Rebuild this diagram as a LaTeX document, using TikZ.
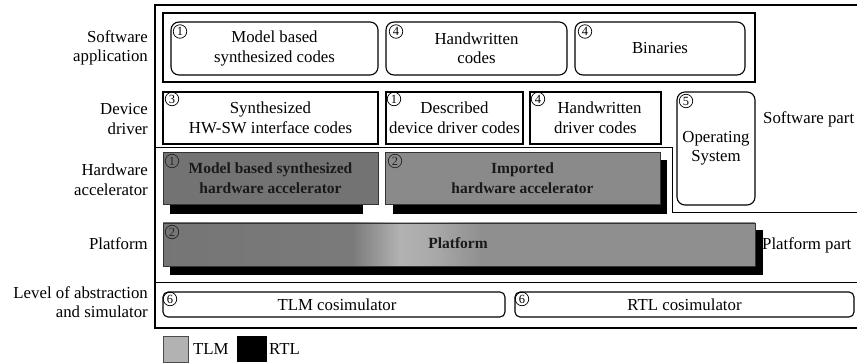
\documentclass[tikz,border=0pt]{standalone}
\usepackage{fontspec}
\setmainfont{Liberation Serif}
\pgfdeclarehorizontalshading{platshade}{100bp}{color(0bp)=(black!54); color(25bp)=(black!54); color(41bp)=(black!52); color(45bp)=(black!30); color(48bp)=(black!34); color(52bp)=(black!44); color(75bp)=(black!44); color(100bp)=(black!44)}
\begin{document}
\begin{tikzpicture}[x=1pt,y=-1pt,
  txt/.style={font=\fontsize{16.8}{19.5}\selectfont, align=center, inner sep=0pt},
  lbl/.style={txt, align=right, anchor=east},
  frame/.style={draw=black, line width=1.1pt},
  rbox/.style={draw=black, line width=1.1pt, rounded corners=8pt, txt, minimum width=#1},
  sbox/.style={draw=black, line width=1.1pt, txt, minimum width=#1},
  gbox/.style={draw=black!80, line width=0.8pt, inner sep=0pt, align=center,
    font=\fontsize{15.5}{19.5}\selectfont\bfseries, text=black!90, minimum width=#1},
  shadowbox/.style={fill=black},
  cnum/.style={circle, draw=black, line width=0.7pt, inner sep=0pt, minimum size=13.5pt,
    font=\fontsize{12.5}{12.5}\selectfont}
]
\useasboundingbox (0,0) rectangle (857,363);

% outer frame and part separators
\draw[line width=1.1pt] (857,5) -- (155,5) -- (155,328) -- (857,328);
\draw[line width=1pt] (155,283) -- (857,283);
\draw[line width=1pt] (155,148) -- (672,148) -- (672,213) -- (857,213);

% left labels
\node[lbl] (lsw) at (148,48) {Software\\application};
\node[lbl] (ldd) at (148,119) {Device\\driver};
\node[lbl] (lhw) at (148,180) {Hardware\\accelerator};
\node[lbl] (lpf) at (148,244) {Platform};
\node[lbl] (lla) at (148,302) {Level of abstraction\\and simulator};

% right labels
\node[txt, anchor=west] (swpart) at (763,119) {Software part};
\node[txt, anchor=west] (pfpart) at (762,245) {Platform part};

% software application
\node[frame, minimum width=592pt, minimum height=69pt, inner sep=0pt] (swapp) at (459,47.5) {};
\node[rbox=207pt, minimum height=53pt] (sa1) at (274.5,48.5) {Model based\\synthesized codes};
\node[rbox=181pt, minimum height=53pt] (sa2) at (476.5,48.5) {Handwritten\\codes};
\node[rbox=170pt, minimum height=53pt] (sa3) at (660,48.5) {Binaries};
\node[cnum] (c1) at (180,31.5) {1};
\node[cnum] (c2) at (396,31.5) {4};
\node[cnum] (c3) at (585,31.5) {4};

% device driver
\node[sbox=215pt, minimum height=52pt] (dd1) at (270.5,118) {Synthesized\\HW-SW interface codes};
\node[sbox=137pt, minimum height=52pt] (dd2) at (454.5,118) {Described\\device driver codes};
\node[sbox=131pt, minimum height=52pt] (dd3) at (595.5,118) {\hspace*{8pt}Handwritten\\driver codes};
\node[rbox=78pt, minimum height=113pt] (os) at (716,148.5) {Operating\\System};
\node[cnum] (c4) at (172,99) {3};
\node[cnum] (c5) at (394,99) {1};
\node[cnum] (c6) at (538,99) {4};
\node[cnum] (c7) at (686,101) {5};

% hardware accelerators (TLM boxes over RTL shadows)
\fill[shadowbox] (170,160) rectangle (363,214);
\fill[shadowbox] (393,160) rectangle (667,214);
\fill[shadowbox] (170,230) rectangle (763,275);
\node[gbox=215pt, minimum height=52pt, fill=black!55] (hwa) at (270.5,178) {Model based synthesized\\hardware accelerator};
\node[gbox=275pt, minimum height=52pt, fill=black!46] (hwb) at (522.5,178) {Imported\\hardware accelerator};
\node[gbox=592pt, minimum height=43pt, shading=platshade] (plat) at (459,244.5) {};
\node[font=\fontsize{15.5}{19.5}\selectfont\bfseries, text=black!90, inner sep=0pt] (plattxt) at (458,243) {Platform};
\node[cnum, draw=black!85, text=black!85] (c8) at (172,161) {1};
\node[cnum, draw=black!85, text=black!85] (c9) at (395,161) {2};
\node[cnum, draw=black!85, text=black!85] (c10) at (172,232) {2};

% cosimulators
\node[draw=black, line width=1.1pt, rounded corners=5pt, txt, minimum width=342pt, minimum height=25pt] (tlm) at (334,304.5) {\hspace*{6pt}TLM cosimulator};
\node[draw=black, line width=1.1pt, rounded corners=5pt, txt, minimum width=339pt, minimum height=25pt] (rtl) at (684.5,304.5) {RTL cosimulator};
\node[cnum] (c11) at (170,299) {6};
\node[cnum] (c12) at (522,299) {6};

% legend
\node[draw=black!70, fill=black!30, minimum width=25pt, minimum height=26pt, inner sep=0pt] (legtlm) at (175.5,349) {};
\node[txt, anchor=west] (legtlmt) at (193,349) {TLM};
\node[fill=black, minimum width=30pt, minimum height=26pt, inner sep=0pt] (legrtl) at (252,349) {};
\node[txt, anchor=west] (legrtlt) at (269,349) {RTL};
\end{tikzpicture}
\end{document}
